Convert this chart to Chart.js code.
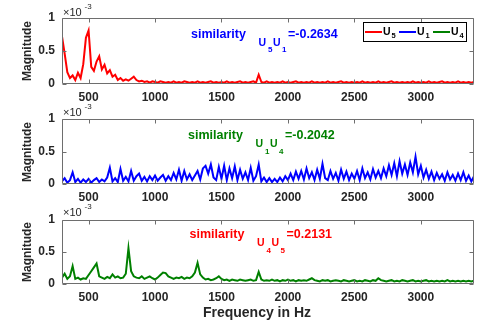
<!DOCTYPE html>
<html>
<head>
<meta charset="utf-8">
<script src="https://cdn.jsdelivr.net/npm/chart.js@4/dist/chart.umd.min.js"></script>
<style>
body { margin: 0; background: #fff; }
#wrap { position: relative; width: 487px; height: 328px; overflow: hidden;
        font-family: 'Liberation Sans', Arial, sans-serif; font-weight: bold; color: #262626; }
canvas { position: absolute; left: 0; }
.t { position: absolute; white-space: nowrap; }
.ln { position: absolute; height: 2px; }
#legend { position: absolute; left: 363px; top: 22px; width: 104px; height: 20px;
          border: 1px solid #000; background: #fff; box-sizing: border-box; }
</style>
</head>
<body>
<div id="wrap">
  <canvas id="c1" width="487" height="110" style="top:0px"></canvas>
  <canvas id="c2" width="487" height="110" style="top:101px"></canvas>
  <canvas id="c3" width="487" height="110" style="top:202px"></canvas>
  <div id="legend"></div>
</div>
<script>
// --- Data (magnitudes in units of 1e-3) ---
const freq = [
  300, 320, 340, 360, 380, 400, 420, 440, 460, 480,
  500, 520, 540, 560, 580, 600, 620, 640, 660, 680,
  700, 720, 740, 760, 780, 800, 820, 840, 860, 880,
  900, 920, 940, 960, 980, 1000, 1020, 1040, 1060, 1080,
  1100, 1120, 1140, 1160, 1180, 1200, 1220, 1240, 1260, 1280,
  1300, 1320, 1340, 1360, 1380, 1400, 1420, 1440, 1460, 1480,
  1500, 1520, 1540, 1560, 1580, 1600, 1620, 1640, 1660, 1680,
  1700, 1720, 1740, 1760, 1780, 1800, 1820, 1840, 1860, 1880,
  1900, 1920, 1940, 1960, 1980, 2000, 2020, 2040, 2060, 2080,
  2100, 2120, 2140, 2160, 2180, 2200, 2220, 2240, 2260, 2280,
  2300, 2320, 2340, 2360, 2380, 2400, 2420, 2440, 2460, 2480,
  2500, 2520, 2540, 2560, 2580, 2600, 2620, 2640, 2660, 2680,
  2700, 2720, 2740, 2760, 2780, 2800, 2820, 2840, 2860, 2880,
  2900, 2920, 2940, 2960, 2980, 3000, 3020, 3040, 3060, 3080,
  3100, 3120, 3140, 3160, 3180, 3200, 3220, 3240, 3260, 3280,
  3300, 3320, 3340, 3360, 3380, 3400
];
const u5 = [
  0.72, 0.46, 0.18, 0.09, 0.13, 0.06, 0.17, 0.09, 0.30, 0.70,
  0.81, 0.26, 0.20, 0.34, 0.42, 0.22, 0.29, 0.16, 0.21, 0.11,
  0.14, 0.06, 0.09, 0.05, 0.07, 0.05, 0.08, 0.11, 0.06, 0.04,
  0.05, 0.03, 0.04, 0.02, 0.04, 0.03, 0.02, 0.04, 0.03, 0.02,
  0.03, 0.02, 0.04, 0.02, 0.03, 0.02, 0.04, 0.03, 0.02, 0.03,
  0.02, 0.04, 0.02, 0.03, 0.02, 0.03, 0.04, 0.02, 0.03, 0.02,
  0.03, 0.02, 0.04, 0.02, 0.03, 0.02, 0.03, 0.04, 0.02, 0.03,
  0.02, 0.03, 0.04, 0.02, 0.14, 0.03, 0.02, 0.04, 0.02, 0.03,
  0.02, 0.03, 0.02, 0.04, 0.02, 0.03, 0.02, 0.03, 0.04, 0.02,
  0.03, 0.02, 0.03, 0.02, 0.04, 0.02, 0.03, 0.02, 0.03, 0.02,
  0.04, 0.02, 0.03, 0.02, 0.03, 0.04, 0.02, 0.03, 0.02, 0.03,
  0.02, 0.03, 0.02, 0.04, 0.02, 0.03, 0.02, 0.03, 0.02, 0.04,
  0.02, 0.03, 0.02, 0.03, 0.04, 0.02, 0.03, 0.02, 0.03, 0.02,
  0.03, 0.02, 0.04, 0.02, 0.03, 0.02, 0.03, 0.02, 0.04, 0.02,
  0.03, 0.02, 0.03, 0.04, 0.02, 0.03, 0.02, 0.03, 0.02, 0.04,
  0.02, 0.03, 0.02, 0.03, 0.02, 0.03
];
const u1 = [
  0.04, 0.09, 0.02, 0.06, 0.18, 0.03, 0.08, 0.02, 0.07, 0.03,
  0.08, 0.02, 0.06, 0.09, 0.03, 0.07, 0.04, 0.10, 0.25, 0.04,
  0.09, 0.03, 0.23, 0.05, 0.11, 0.04, 0.20, 0.05, 0.12, 0.16,
  0.05, 0.11, 0.04, 0.12, 0.06, 0.13, 0.05, 0.10, 0.14, 0.05,
  0.12, 0.06, 0.17, 0.07, 0.22, 0.05, 0.20, 0.07, 0.15, 0.06,
  0.13, 0.20, 0.07, 0.24, 0.28, 0.16, 0.30, 0.10, 0.06, 0.26,
  0.08, 0.28, 0.06, 0.24, 0.09, 0.27, 0.06, 0.22, 0.08, 0.18,
  0.06, 0.25, 0.05, 0.12, 0.30, 0.04, 0.10, 0.03, 0.09, 0.03,
  0.08, 0.03, 0.10, 0.04, 0.12, 0.06, 0.16, 0.06, 0.19, 0.08,
  0.20, 0.07, 0.24, 0.09, 0.18, 0.06, 0.22, 0.08, 0.31, 0.09,
  0.06, 0.20, 0.08, 0.17, 0.05, 0.22, 0.08, 0.19, 0.06, 0.16,
  0.08, 0.20, 0.06, 0.24, 0.09, 0.18, 0.07, 0.23, 0.10, 0.20,
  0.09, 0.24, 0.12, 0.29, 0.14, 0.32, 0.12, 0.35, 0.16, 0.30,
  0.14, 0.33, 0.18, 0.42, 0.15, 0.28, 0.10, 0.22, 0.08, 0.19,
  0.06, 0.17, 0.08, 0.15, 0.05, 0.18, 0.07, 0.14, 0.05, 0.16,
  0.06, 0.18, 0.05, 0.13, 0.04, 0.12
];
const u4 = [
  0.10, 0.16, 0.08, 0.12, 0.28, 0.08, 0.10, 0.07, 0.09, 0.08,
  0.14, 0.20, 0.26, 0.32, 0.12, 0.10, 0.08, 0.11, 0.09, 0.15,
  0.10, 0.12, 0.09, 0.10, 0.16, 0.56, 0.20, 0.12, 0.10, 0.09,
  0.12, 0.08, 0.10, 0.12, 0.09, 0.07, 0.10, 0.14, 0.18, 0.17,
  0.12, 0.10, 0.08, 0.10, 0.09, 0.11, 0.08, 0.10, 0.09, 0.12,
  0.18, 0.33, 0.15, 0.10, 0.07, 0.08, 0.06, 0.07, 0.09, 0.12,
  0.08, 0.06, 0.07, 0.05, 0.07, 0.06, 0.05, 0.07, 0.06, 0.05,
  0.06, 0.07, 0.05, 0.06, 0.19, 0.07, 0.05, 0.06, 0.05, 0.07,
  0.05, 0.06, 0.04, 0.06, 0.05, 0.07, 0.05, 0.06, 0.04, 0.06,
  0.05, 0.06, 0.05, 0.07, 0.09, 0.06, 0.05, 0.04, 0.06, 0.05,
  0.06, 0.04, 0.05, 0.06, 0.05, 0.04, 0.06, 0.05, 0.04, 0.05,
  0.06, 0.04, 0.05, 0.04, 0.06, 0.05, 0.04, 0.06, 0.05, 0.09,
  0.06, 0.05, 0.04, 0.05, 0.06, 0.04, 0.05, 0.04, 0.06, 0.05,
  0.04, 0.05, 0.06, 0.04, 0.05, 0.04, 0.05, 0.06, 0.04, 0.05,
  0.04, 0.05, 0.04, 0.05, 0.04, 0.06, 0.04, 0.05, 0.04, 0.05,
  0.04, 0.05, 0.04, 0.05, 0.04, 0.05
];
const xTicks = [500, 1000, 1500, 2000, 2500, 3000];
const yTicks = [0, 0.5, 1];

const RED = '#ff0000', BLUE = '#0000ff', GREEN = '#008000';

// --- Axes box with inward ticks (MATLAB look) ---
const boxTicks = {
  id: 'boxTicks',
  afterDatasetsDraw(chart) {
    const { ctx, chartArea: a, scales: { x, y } } = chart;
    const L = Math.round(a.left) + 0.5, R = Math.round(a.right) - 0.5;
    const T = Math.round(a.top) + 0.5, B = Math.round(a.bottom) - 0.5;
    ctx.save();
    ctx.strokeStyle = '#6e6e6e'; ctx.lineWidth = 1;
    ctx.beginPath();
    ctx.rect(L, T, R - L, B - T);
    xTicks.forEach(v => {
      const px = Math.round(x.getPixelForValue(v)) + 0.5;
      ctx.moveTo(px, B); ctx.lineTo(px, B - 4);
      ctx.moveTo(px, T); ctx.lineTo(px, T + 4);
    });
    yTicks.forEach(v => {
      const py = Math.round(y.getPixelForValue(v)) + 0.5;
      ctx.moveTo(L, py); ctx.lineTo(L + 4, py);
      ctx.moveTo(R, py); ctx.lineTo(R - 4, py);
    });
    ctx.stroke();
    ctx.restore();
  }
};

function makePanel(id, values, color, plotH) {
  const tickFont = { family: "'Liberation Sans', Arial, sans-serif", size: 12, weight: 'bold' };
  new Chart(document.getElementById(id), {
    type: 'line',
    data: {
      labels: freq,
      datasets: [{ data: values, borderColor: color, borderWidth: 2, pointRadius: 0, tension: 0 }]
    },
    options: {
      responsive: false,
      animation: false,
      layout: { padding: { top: 18, right: 13, left: 0, bottom: 0 } },
      plugins: { legend: { display: false }, tooltip: { enabled: false } },
      scales: {
        x: {
          type: 'linear', min: 300, max: 3400,
          afterBuildTicks: s => { s.ticks = xTicks.map(v => ({ value: v })); },
          afterFit: s => { s.height = 110 - 18 - plotH; },
          grid: { display: false, drawTicks: false },
          border: { display: false },
          ticks: { font: tickFont, color: '#262626', padding: 6, maxRotation: 0, callback: v => String(v) }
        },
        y: {
          min: 0, max: 1,
          afterBuildTicks: s => { s.ticks = yTicks.map(v => ({ value: v })); },
          afterFit: s => { s.width = 62; },
          grid: { display: false, drawTicks: false },
          border: { display: false },
          ticks: { font: tickFont, color: '#262626', padding: 7, callback: v => String(v) }
        }
      }
    },
    plugins: [boxTicks]
  });
}

makePanel('c1', u5, RED, 66);
makePanel('c2', u1, BLUE, 65);
makePanel('c3', u4, GREEN, 64);

// --- Text overlays ---
const wrap = document.getElementById('wrap');
function txt(x, y, s, size, color, opts) {
  opts = opts || {};
  const d = document.createElement('div');
  d.className = 't';
  d.textContent = s;
  d.style.fontSize = size + 'px';
  d.style.lineHeight = size + 'px';
  d.style.color = color || '#262626';
  if (opts.normal) d.style.fontWeight = 'normal';
  d.style.top = (y - size / 2) + 'px';
  d.style.left = x + 'px';
  if (opts.center) d.style.transform = 'translateX(-50%)';
  if (opts.rotate) {
    d.style.top = y + 'px';
    d.style.transform = 'translate(-50%,-50%) rotate(-90deg)';
  }
  wrap.appendChild(d);
  return d;
}
function hline(x1, x2, y, color) {
  const d = document.createElement('div');
  d.className = 'ln';
  d.style.left = x1 + 'px'; d.style.width = (x2 - x1) + 'px';
  d.style.top = (y - 1) + 'px'; d.style.background = color;
  wrap.appendChild(d);
}

// y labels and exponent markers
[[51, 12.3], [151.5, 112.3], [252, 212.3]].forEach(([cy, ey]) => {
  txt(27, cy, 'Magnitude', 12, '#262626', { rotate: true });
  txt(63, ey, '\u00d710', 11, '#262626', { normal: true });
  txt(84.5, ey - 5.3, '-3', 8, '#262626', { normal: true });
});
txt(257, 312, 'Frequency in Hz', 14, '#262626', { center: true });

// similarity annotations
function simNote(x0, y0, a, b, val, color) {
  txt(x0, y0, 'similarity', 12.5, color);
  txt(x0 + 67.5, y0 + 8, 'U', 10.5, color);
  txt(x0 + 77, y0 + 16, a, 8, color);
  txt(x0 + 82, y0 + 8, 'U', 10.5, color);
  txt(x0 + 91, y0 + 16, b, 8, color);
  txt(x0 + 97, y0, val, 12.5, color);
}
simNote(191, 34, '5', '1', '=-0.2634', BLUE);
simNote(188, 135.7, '1', '4', '=-0.2042', GREEN);
simNote(189.5, 234.5, '4', '5', '=0.2131', RED);

// legend
wrap.appendChild(document.getElementById('legend'));
[[365, RED, '5'], [399, BLUE, '1'], [433, GREEN, '4']].forEach(([x, c, n]) => {
  hline(x, x + 16.5, 31.7, c);
  txt(x + 18, 31.7, 'U', 10.5, '#000');
  txt(x + 26.5, 36, n, 7.5, '#000');
});
</script>
</body>
</html>
